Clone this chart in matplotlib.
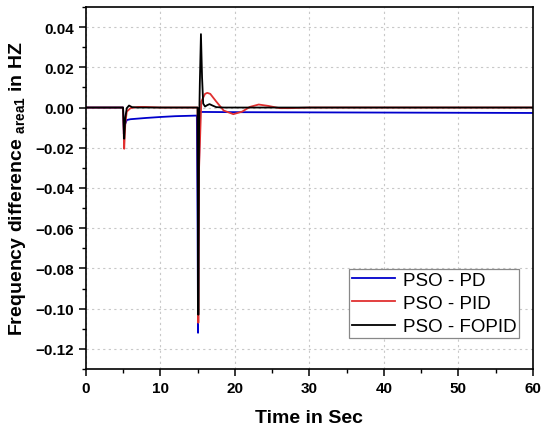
import matplotlib
matplotlib.use("Agg")
import matplotlib.pyplot as plt
from matplotlib.ticker import MultipleLocator, FuncFormatter

plt.rcParams['font.family'] = ['Liberation Sans', 'DejaVu Sans']
plt.rcParams['mathtext.fontset'] = 'custom'
plt.rcParams['mathtext.rm'] = 'Liberation Sans'
plt.rcParams['mathtext.bf'] = 'Liberation Sans:bold'

# ---- data ----
t_pd = [0, 5.0, 5.1, 5.2, 5.5, 6, 8, 10, 12, 14.9, 15.0, 15.06, 15.15, 15.3, 16, 20, 30, 40, 50, 60]
v_pd = [0, 0, -0.013, -0.009, -0.0062, -0.0058, -0.0052, -0.0047, -0.0043, -0.0040,
        -0.060, -0.112, -0.040, -0.0022, -0.0022, -0.0023, -0.0024, -0.0025, -0.0026, -0.0027]

t_pid = [0, 5.0, 5.08, 5.15, 5.3, 5.5, 6, 7, 8, 10, 15.0, 15.05, 15.1, 15.2, 15.5, 16.0,
         16.3, 16.7, 17.5, 18.5, 19.8, 21, 22, 23.2, 24.5, 26, 27.5, 30, 60]
v_pid = [0, 0, -0.012, -0.0205, -0.008, -0.002, -0.0003, 0.0003, 0.0003, 0, 0, -0.06, -0.107,
         -0.03, 0.003, 0.0068, 0.0073, 0.0068, 0.003, -0.0015, -0.0033, -0.002, 0.0003, 0.0015,
         0.0008, -0.0003, -0.0003, 0, 0]

t_fopid = [0, 5.0, 5.08, 5.15, 5.3, 5.5, 5.8, 6.2, 7, 15.0, 15.05, 15.1, 15.2, 15.3, 15.45,
           15.6, 15.75, 16.0, 16.3, 16.6, 17.0, 17.5, 18.5, 20, 60]
v_fopid = [0, 0, -0.008, -0.0155, -0.005, -0.0003, 0.001, 0.0002, 0, 0, -0.05, -0.103, -0.01,
           0.012, 0.0365, 0.015, 0.002, 0.0005, 0.0012, 0.0017, 0.0010, 0.0002, 0, 0, 0]

labels = ['PSO - PD', 'PSO - PID', 'PSO - FOPID']
colors = ['#0000cc', '#e03030', '#000000']

fig = plt.figure(figsize=(5.5, 4.31), dpi=100)
ax = fig.add_axes([0.156, 0.1415, 0.813, 0.84])

ax.plot(t_pd, v_pd, color=colors[0], lw=1.3, label=labels[0])
ax.plot(t_pid, v_pid, color=colors[1], lw=1.3, label=labels[1])
ax.plot(t_fopid, v_fopid, color=colors[2], lw=1.3, label=labels[2])

ax.set_xlim(0, 60)
ax.set_ylim(-0.13, 0.05)
ax.xaxis.set_major_locator(MultipleLocator(10))
ax.xaxis.set_minor_locator(MultipleLocator(5))
ax.yaxis.set_major_locator(MultipleLocator(0.02))
ax.yaxis.set_minor_locator(MultipleLocator(0.01))
ax.yaxis.set_major_formatter(FuncFormatter(lambda v, p: ('%.2f' % v).replace('-', '\u2212') if abs(v) > 1e-9 else '0.00'))
ax.xaxis.set_major_formatter(FuncFormatter(lambda v, p: '%d' % round(v)))

ax.grid(True, which='major', color='#c8c8c8', linestyle=(0, (2, 3)), lw=0.8)
ax.tick_params(which='major', direction='out', length=5, width=1.1, labelsize=11)
ax.tick_params(which='minor', direction='out', length=3, width=1.0)
for lab in ax.get_xticklabels() + ax.get_yticklabels():
    lab.set_fontweight('bold')
for s in ax.spines.values():
    s.set_linewidth(1.2)

ax.set_xlabel('Time in Sec', fontsize=14, fontweight='bold', labelpad=10)
ax.set_ylabel(r'Frequency difference $_{\mathbf{area1}}$ in HZ', fontsize=14, fontweight='bold', labelpad=5)

leg = ax.legend(loc='lower right', bbox_to_anchor=(0.969, 0.0856), fontsize=13.5, frameon=True,
                fancybox=False, edgecolor='#888888', framealpha=1, borderpad=0.15,
                handlelength=2.3, handletextpad=0.4, labelspacing=0.33, borderaxespad=0)
leg.get_frame().set_linewidth(0.9)

fig.savefig('out.png', dpi=100)
